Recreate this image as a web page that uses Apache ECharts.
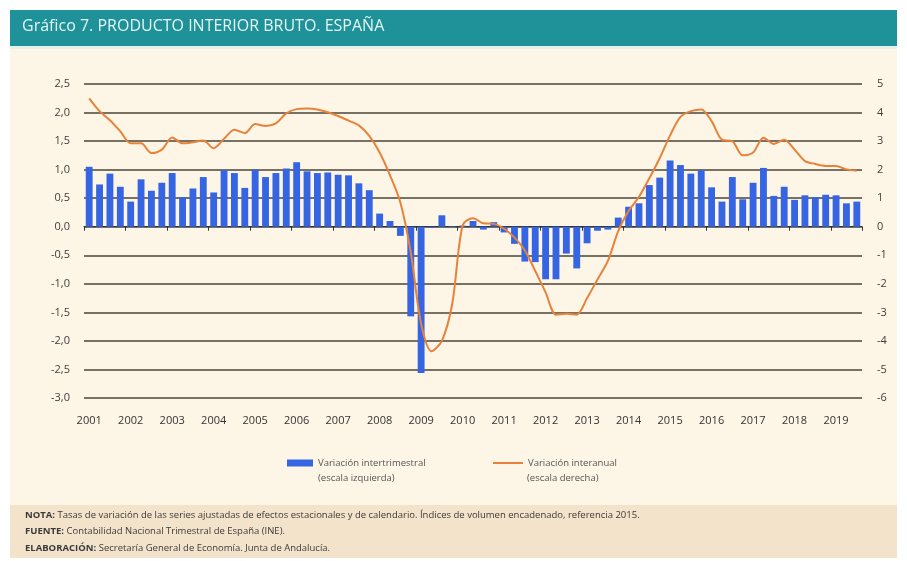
<!DOCTYPE html>
<html>
<head>
<meta charset="utf-8">
<script src="https://cdn.jsdelivr.net/npm/echarts@6/dist/echarts.min.js"></script>
<style>
html,body{margin:0;padding:0;background:#ffffff;}
#chart{width:907px;height:561px;}
</style>
</head>
<body>
<div id="chart"></div>
<script>
// ---- Data ----
const years = [2001,2002,2003,2004,2005,2006,2007,2008,2009,2010,2011,2012,2013,2014,2015,2016,2017,2018,2019];
const quartersInLastYear = 3;

// Variación intertrimestral (escala izquierda), % quarterly
const interTrimestral = [
  1.05, 0.74, 0.93, 0.70,   // 2001
  0.44, 0.83, 0.63, 0.77,   // 2002
  0.94, 0.52, 0.67, 0.87,   // 2003
  0.60, 0.99, 0.94, 0.68,   // 2004
  1.00, 0.87, 0.94, 1.02,   // 2005
  1.13, 0.97, 0.94, 0.95,   // 2006
  0.91, 0.90, 0.76, 0.64,   // 2007
  0.23, 0.10, -0.16, -1.57, // 2008
  -2.56, -0.02, 0.20, 0.01, // 2009
  0.02, 0.10, -0.05, 0.08,  // 2010
  -0.10, -0.30, -0.61, -0.62, // 2011
  -0.92, -0.92, -0.47, -0.73, // 2012
  -0.29, -0.07, -0.05, 0.16,  // 2013
  0.35, 0.41, 0.73, 0.86,   // 2014
  1.16, 1.08, 0.93, 0.99,   // 2015
  0.69, 0.44, 0.87, 0.48,   // 2016
  0.77, 1.03, 0.54, 0.70,   // 2017
  0.47, 0.55, 0.52, 0.56,   // 2018
  0.55, 0.41, 0.44          // 2019
];

// Variación interanual (escala derecha), % yoy
const interAnual = [
  4.50, 4.05, 3.73, 3.34,   // 2001
  2.92, 2.92, 2.58, 2.70,   // 2002
  3.13, 2.92, 2.96, 3.02,   // 2003
  2.75, 3.08, 3.40, 3.28,   // 2004
  3.60, 3.53, 3.62, 3.97,   // 2005
  4.12, 4.14, 4.11, 4.01,   // 2006
  3.88, 3.72, 3.55, 3.18,   // 2007
  2.60, 1.80, 0.85, -0.90,  // 2008
  -3.40, -4.36, -4.00, -2.70, // 2009
  0.05, 0.30, 0.12, 0.10,   // 2010
  -0.07, -0.38, -0.83, -1.55, // 2011
  -2.30, -3.08, -3.05, -3.08, // 2012
  -2.50, -1.85, -1.20, -0.15, // 2013
  0.55, 1.05, 1.70, 2.40,   // 2014
  3.20, 3.85, 4.05, 4.11,   // 2015
  3.70, 3.05, 3.00, 2.50,   // 2016
  2.60, 3.12, 2.90, 3.05,   // 2017
  2.70, 2.30, 2.20, 2.13,   // 2018
  2.13, 2.01, 1.96          // 2019
];

const leftTicks = { min: -3, max: 2.5, step: 0.5 };
const rightTicks = { min: -6, max: 5, step: 1 };

const seriesNames = ['Variación intertrimestral', 'Variación interanual'];
const seriesNotes = ['(escala izquierda)', '(escala derecha)'];

const titleText = 'Gráfico 7. PRODUCTO INTERIOR BRUTO. ESPAÑA';
const footerLines = [
  ['NOTA:', ' Tasas de variación de las series ajustadas de efectos estacionales y de calendario. Índices de volumen encadenado, referencia 2015.'],
  ['FUENTE:', ' Contabilidad Nacional Trimestral de España (INE).'],
  ['ELABORACIÓN:', ' Secretaría General de Economía. Junta de Andalucía.']
];

// categories: one per quarter
const categories = [];
years.forEach((y, i) => {
  const nq = (i === years.length - 1) ? quartersInLastYear : 4;
  for (let q = 1; q <= nq; q++) categories.push(y + '-T' + q);
});

// ---- Chart ----
const FONT = 'Open Sans';
const BLUE = '#3565e2';
const ORANGE = '#e8823a';
const chart = echarts.init(document.getElementById('chart'), null, { renderer: 'canvas' });

const footerGraphics = footerLines.map((ln, i) => ({
  type: 'text',
  left: 25,
  top: 510 + i * 16.5,
  style: {
    text: '{b|' + ln[0] + '}{n|' + ln[1] + '}',
    rich: {
      b: { fontFamily: FONT, fontSize: 9.5, fontWeight: 'bold', fill: '#3a3a3a' },
      n: { fontFamily: FONT, fontSize: 9.5, fill: '#3a3a3a' }
    }
  },
  z: 10
}));

const noteGraphics = [
  { type: 'text', left: 318, top: 473, style: { text: seriesNotes[0], fontFamily: FONT, fontSize: 9.5, fill: '#555' }, z: 10 },
  { type: 'text', left: 527, top: 473, style: { text: seriesNotes[1], fontFamily: FONT, fontSize: 9.5, fill: '#555' }, z: 10 }
];

const option = {
  backgroundColor: '#ffffff',
  animation: false,
  textStyle: { fontFamily: FONT },
  graphic: [
    { type: 'rect', shape: { x: 10, y: 10, width: 887, height: 548 }, style: { fill: '#fdf5e5' }, z: -10, silent: true },
    { type: 'rect', shape: { x: 10, y: 10, width: 887, height: 36 }, style: { fill: '#1f9198' }, z: -9, silent: true },
    { type: 'rect', shape: { x: 10, y: 46, width: 887, height: 3 }, style: { fill: '#e3f1ee' }, z: -9, silent: true },
    { type: 'rect', shape: { x: 10, y: 505, width: 887, height: 53 }, style: { fill: '#f4e3cb' }, z: -9, silent: true },
    {
      type: 'text', left: 22, top: 18,
      style: { text: titleText, fontFamily: FONT, fontSize: 16, fill: '#e4f6f5' }, z: 10
    }
  ].concat(footerGraphics, noteGraphics),
  legend: [
    {
      data: [{ name: seriesNames[0], icon: 'rect', itemStyle: { color: BLUE } }],
      left: 287, top: 458, padding: 0,
      itemWidth: 26, itemHeight: 7, itemGap: 4,
      textStyle: { color: '#555', fontSize: 9.5 }
    },
    {
      data: [{ name: seriesNames[1], icon: 'rect', itemStyle: { color: ORANGE } }],
      left: 493, top: 458, padding: 0,
      itemWidth: 30, itemHeight: 2, itemGap: 4,
      textStyle: { color: '#555', fontSize: 9.5 }
    }
  ],
  grid: { left: 84, right: 45, top: 84, bottom: 163, containLabel: false, outerBoundsMode: 'none' },
  xAxis: [
    {
      type: 'category', data: categories, position: 'bottom', boundaryGap: true,
      axisLine: { show: true, onZero: true, onZeroAxisIndex: 0, lineStyle: { color: '#333', width: 1 } },
      axisTick: { show: true, interval: 3, length: 4, alignWithLabel: false, lineStyle: { color: '#333' } },
      axisLabel: { show: false },
      splitLine: { show: false }
    },
    {
      type: 'category', data: categories, position: 'bottom', boundaryGap: true,
      axisLine: { show: false, onZero: false },
      axisTick: { show: false },
      axisLabel: { show: true, interval: 3, margin: 17, color: '#333', fontSize: 11, formatter: (v) => v.slice(0, 4) },
      splitLine: { show: false }
    }
  ],
  yAxis: [
    {
      type: 'value', position: 'left', min: leftTicks.min, max: leftTicks.max, interval: leftTicks.step,
      axisLine: { show: false }, axisTick: { show: false },
      axisLabel: { margin: 14, color: '#404040', fontSize: 11, formatter: (v) => v.toFixed(1).replace('.', ',') },
      splitLine: { show: true, lineStyle: { color: '#4a4539', width: 1.6 } }
    },
    {
      type: 'value', position: 'right', min: rightTicks.min, max: rightTicks.max, interval: rightTicks.step,
      axisLine: { show: false }, axisTick: { show: false },
      axisLabel: { margin: 15, color: '#404040', fontSize: 11, formatter: (v) => String(v) },
      splitLine: { show: false }
    }
  ],
  series: [
    {
      name: seriesNames[0], type: 'bar', xAxisIndex: 0, yAxisIndex: 0,
      data: interTrimestral, barWidth: '66%',
      itemStyle: { color: BLUE }, z: 2
    },
    {
      name: seriesNames[1], type: 'line', xAxisIndex: 1, yAxisIndex: 1,
      data: interAnual, smooth: 0.3, symbol: 'none',
      lineStyle: { color: ORANGE, width: 2 }, itemStyle: { color: ORANGE }, z: 3
    }
  ]
};
chart.setOption(option);
</script>
</body>
</html>
